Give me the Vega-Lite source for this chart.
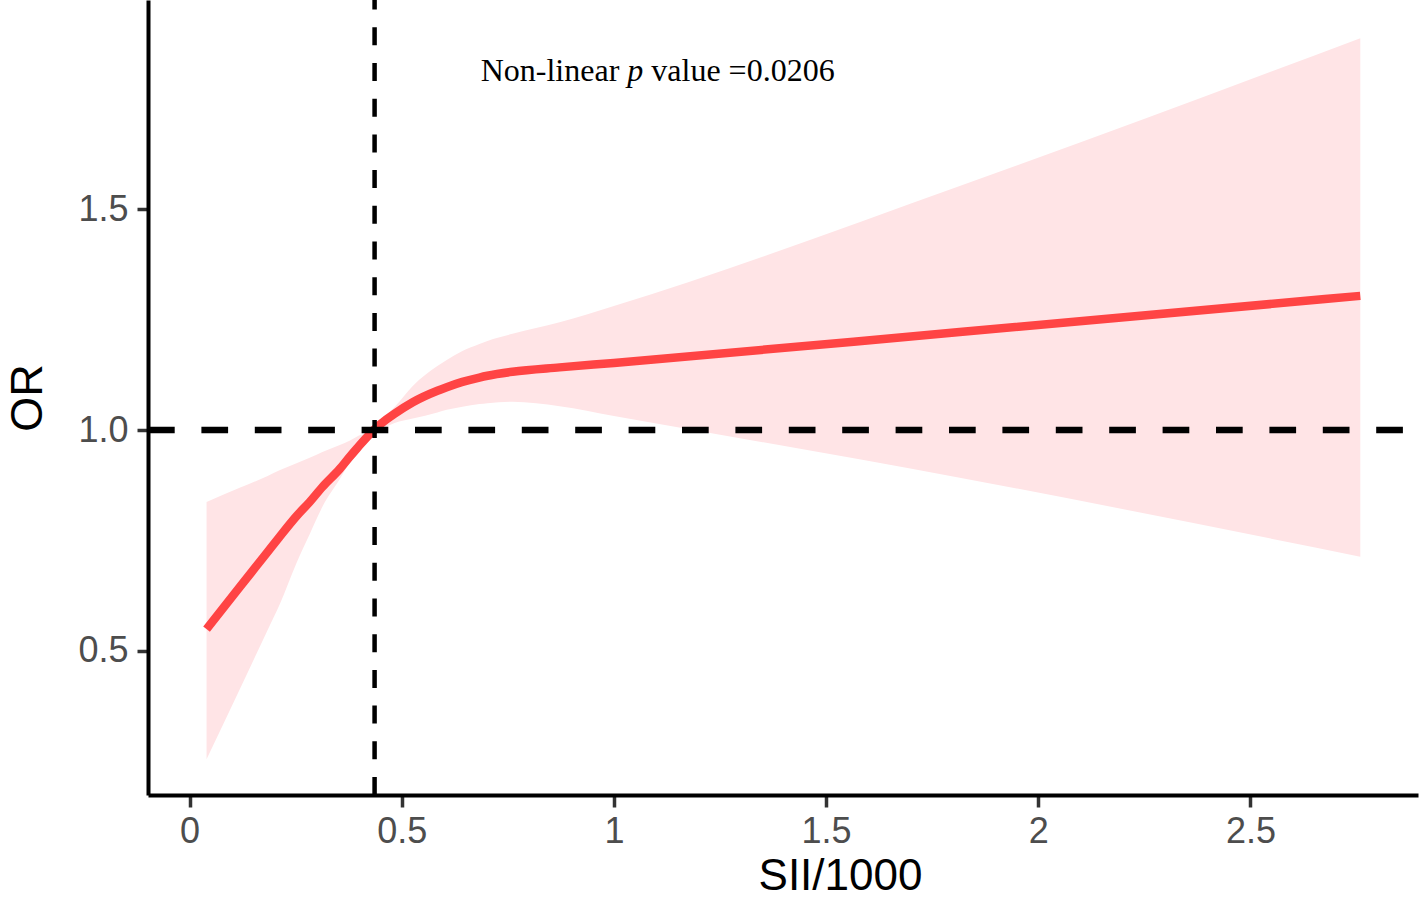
{
  "$schema": "https://vega.github.io/schema/vega-lite/v6.json",
  "width": 1270,
  "height": 795,
  "autosize": {"type": "none"},
  "padding": {"left": 148, "top": 0, "right": 1, "bottom": 103},
  "background": "white",
  "config": {"view": {"stroke": null}},
  "datasets": {
    "curve": [
      {"x": 0.040, "or": 0.549, "lower": 0.254, "upper": 0.837},
      {"x": 0.118, "or": 0.644, "lower": 0.412, "upper": 0.869},
      {"x": 0.184, "or": 0.724, "lower": 0.547, "upper": 0.896},
      {"x": 0.212, "or": 0.758, "lower": 0.604, "upper": 0.909},
      {"x": 0.252, "or": 0.805, "lower": 0.699, "upper": 0.925},
      {"x": 0.283, "or": 0.837, "lower": 0.764, "upper": 0.937},
      {"x": 0.313, "or": 0.871, "lower": 0.826, "upper": 0.950},
      {"x": 0.354, "or": 0.912, "lower": 0.889, "upper": 0.966},
      {"x": 0.377, "or": 0.939, "lower": 0.925, "upper": 0.976},
      {"x": 0.394, "or": 0.958, "lower": 0.943, "upper": 0.985},
      {"x": 0.434, "or": 1.000, "lower": 0.999, "upper": 1.001},
      {"x": 0.464, "or": 1.024, "lower": 1.008, "upper": 1.034},
      {"x": 0.483, "or": 1.037, "lower": 1.016, "upper": 1.052},
      {"x": 0.526, "or": 1.063, "lower": 1.026, "upper": 1.100},
      {"x": 0.584, "or": 1.089, "lower": 1.040, "upper": 1.145},
      {"x": 0.606, "or": 1.097, "lower": 1.046, "upper": 1.159},
      {"x": 0.643, "or": 1.109, "lower": 1.053, "upper": 1.179},
      {"x": 0.683, "or": 1.119, "lower": 1.059, "upper": 1.195},
      {"x": 0.702, "or": 1.123, "lower": 1.061, "upper": 1.202},
      {"x": 0.761, "or": 1.132, "lower": 1.064, "upper": 1.218},
      {"x": 0.872, "or": 1.142, "lower": 1.054, "upper": 1.244},
      {"x": 1.000, "or": 1.152, "lower": 1.032, "upper": 1.281},
      {"x": 1.815, "or": 1.222, "lower": 0.892, "upper": 1.553},
      {"x": 2.759, "or": 1.304, "lower": 0.713, "upper": 1.888}
    ]
  },
  "layer": [
    {
      "data": {"name": "curve"},
      "mark": {"type": "area", "color": "#FFE4E6", "opacity": 1, "interpolate": "monotone"},
      "encoding": {
        "x": {
          "field": "x", "type": "quantitative",
          "scale": {"domain": [-0.098, 2.895], "nice": false, "zero": false},
          "axis": {
            "values": [0, 0.5, 1, 1.5, 2, 2.5],
            "format": "~g",
            "title": "SII/1000",
            "grid": false,
            "domainColor": "black",
            "domainWidth": 4,
            "tickColor": "#333333",
            "tickWidth": 3.5,
            "tickSize": 12,
            "labelFont": "Liberation Sans",
            "labelFontSize": 36,
            "labelColor": "#4D4D4D",
            "labelPadding": 7,
            "labelFlush": false,
            "labelBound": false,
            "titleFont": "Liberation Sans",
            "titleFontSize": 44,
            "titleFontWeight": "normal",
            "titleColor": "black",
            "titleX": 692,
            "titleY": 94,
            "titleBaseline": "alphabetic"
          }
        },
        "y": {
          "field": "lower", "type": "quantitative",
          "scale": {"domain": [0.173, 1.9745], "nice": false, "zero": false},
          "axis": {
            "values": [0.5, 1, 1.5],
            "format": ".1f",
            "title": "OR",
            "grid": false,
            "domainColor": "black",
            "domainWidth": 4,
            "tickColor": "#333333",
            "tickWidth": 3.5,
            "tickSize": 11,
            "labelFont": "Liberation Sans",
            "labelFontSize": 36,
            "labelColor": "#4D4D4D",
            "labelPadding": 9,
            "labelFlush": false,
            "labelBound": false,
            "titleFont": "Liberation Sans",
            "titleFontSize": 45,
            "titleFontWeight": "normal",
            "titleColor": "black",
            "titleX": -107,
            "titleY": 397.5,
            "titleBaseline": "alphabetic"
          }
        },
        "y2": {"field": "upper"}
      }
    },
    {
      "data": {"name": "curve"},
      "mark": {"type": "line", "color": "#FF4444", "strokeWidth": 8.5, "strokeCap": "butt", "interpolate": "monotone"},
      "encoding": {
        "x": {"field": "x", "type": "quantitative"},
        "y": {"field": "or", "type": "quantitative"}
      }
    },
    {
      "data": {"values": [{"ref": 1}]},
      "mark": {"type": "rule", "color": "black", "strokeWidth": 6.5, "strokeDash": [26.7, 26.7]},
      "encoding": {
        "x": {"datum": -0.098, "type": "quantitative"},
        "x2": {"datum": 2.895},
        "y": {"field": "ref", "type": "quantitative"}
      }
    },
    {
      "data": {"values": [{"cut": 0.436}]},
      "mark": {"type": "rule", "color": "black", "strokeWidth": 4.5, "strokeDash": [18, 17.7]},
      "encoding": {
        "x": {"field": "cut", "type": "quantitative"},
        "y": {"datum": 0.173, "type": "quantitative"},
        "y2": {"datum": 1.9745}
      }
    },
    {
      "data": {"values": [{"x": 1.0127, "y": 1.791, "label": "Non-linear"}]},
      "mark": {"type": "text", "font": "Liberation Serif", "fontSize": 32, "color": "black", "align": "right", "baseline": "alphabetic"},
      "encoding": {
        "x": {"field": "x", "type": "quantitative"},
        "y": {"field": "y", "type": "quantitative"},
        "text": {"field": "label"}
      }
    },
    {
      "data": {"values": [{"x": 1.0503, "y": 1.791, "label": "p"}]},
      "mark": {"type": "text", "font": "Liberation Serif", "fontSize": 32, "fontStyle": "italic", "color": "black", "align": "center", "baseline": "alphabetic"},
      "encoding": {
        "x": {"field": "x", "type": "quantitative"},
        "y": {"field": "y", "type": "quantitative"},
        "text": {"field": "label"}
      }
    },
    {
      "data": {"values": [{"x": 1.0881, "y": 1.791, "label": "value =0.0206"}]},
      "mark": {"type": "text", "font": "Liberation Serif", "fontSize": 32, "color": "black", "align": "left", "baseline": "alphabetic"},
      "encoding": {
        "x": {"field": "x", "type": "quantitative"},
        "y": {"field": "y", "type": "quantitative"},
        "text": {"field": "label"}
      }
    }
  ]
}
